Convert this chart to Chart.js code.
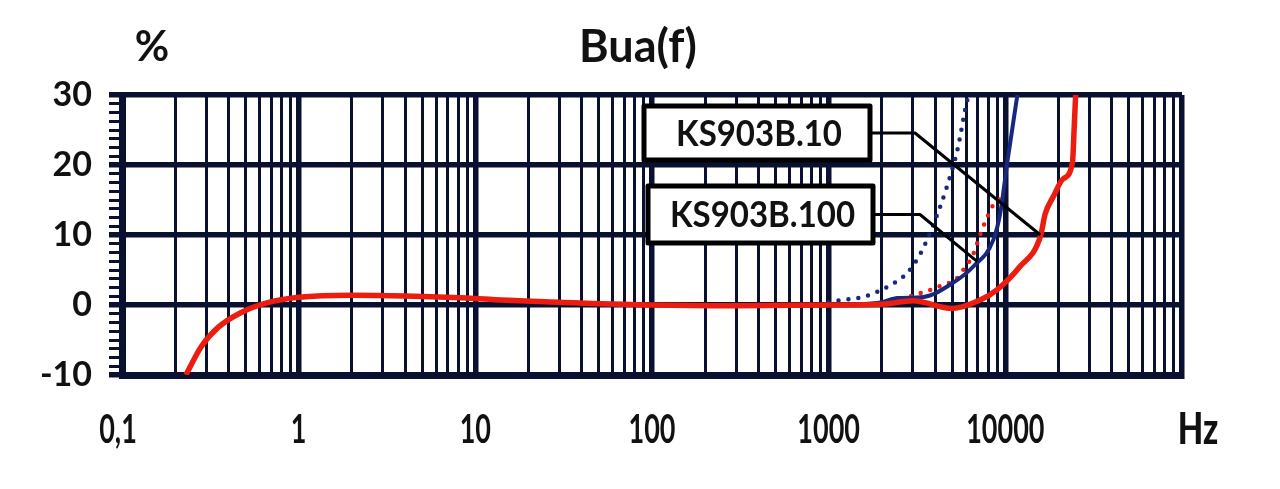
<!DOCTYPE html>
<html>
<head>
<meta charset="utf-8">
<script src="https://cdn.jsdelivr.net/npm/chart.js@4"></script>
<style>
  html, body { margin: 0; padding: 0; background: #ffffff; }
  #c { display: block; }
</style>
</head>
<body>
<canvas id="c" width="1280" height="489"></canvas>
<script>
// ---------------- data ----------------
const chartTitle = "Bua(f)";
const yUnit = "%";
const xUnit = "Hz";

const xTickValues = [0.1, 1, 10, 100, 1000, 10000];
const xTickLabels = ["0,1", "1", "10", "100", "1000", "10000"];
const yTickValues = [-10, 0, 10, 20, 30];
const yTickLabels = ["-10", "0", "10", "20", "30"];

// red solid
const redSolidFreq = [0.23, 0.28, 0.35, 0.47, 0.66, 1, 2, 4, 9, 14, 30, 100, 300, 1000, 2000, 3000, 5000, 7200, 9000, 12000, 15800, 16800, 18700, 21200, 24000, 24500, 25000];
const redSolidVal  = [-10, -6, -3.2, -1.1, 0.3, 1.1, 1.4, 1.3, 1.0, 0.7, 0.4, 0, -0.1, 0, 0.1, 0.6, -0.5, 0.7, 2.2, 5.4, 9.8, 13, 15.5, 18, 20.4, 25, 30];

// blue solid
const blueSolidFreq = [500, 1000, 2000, 2445, 3433, 5078, 6590, 8550, 9370, 10260, 11700];
const blueSolidVal  = [0, 0, 0.4, 1.0, 1.15, 3.2, 5.5, 9.3, 13.2, 20.4, 30];

// blue dotted
const blueDotFreq = [1000, 1164, 1570, 2148, 2787, 3302, 4016, 4697, 5350, 6095, 6250];
const blueDotVal  = [0.4, 0.7, 1.15, 2.6, 4.6, 7.3, 12.2, 17.1, 22.1, 29.3, 30];

// red dotted
const redDotFreq = [2000, 2600, 3302, 3910, 4455, 5212, 5780, 6590, 7035, 7500, 8010, 8550, 9500];
const redDotVal  = [0.4, 0.9, 1.7, 2.3, 2.9, 3.6, 5.0, 7.3, 9.3, 11.2, 12.9, 14.3, 15.3];

// callouts: label and the data point each leader line points to
const calloutLabels = ["KS903B.10", "KS903B.100"];
const calloutTargetFreq = [15800, 6940];
const calloutTargetVal  = [10, 6.2];

// ---------------- helpers ----------------
const NAVY = "#0a1030";
const RED = "#ec1d0f";
const BLUE = "#17287f";

function pts(xs, ys) { return xs.map((x, i) => ({ x: x, y: ys[i] })); }

// grid lines at 1..9 x each decade
const xGridValues = [];
for (let d = -1; d <= 4; d++) {
  for (let m = 1; m <= 9; m++) xGridValues.push(+(m * Math.pow(10, d)).toPrecision(6));
}
xGridValues.push(100000);
function isDecade(v) { const l = Math.log10(v); return Math.abs(l - Math.round(l)) < 1e-9; }
function isMajorY(v) { return Math.abs(v % 10) < 1e-9; }

// ---------------- plugins ----------------
const textPlugin = {
  id: "texts",
  afterDraw(chart) {
    const ctx = chart.ctx;
    const xs = chart.scales.x;
    ctx.save();
    ctx.fillStyle = "#111111";
    ctx.textAlign = "center";
    ctx.textBaseline = "middle";

    // x tick labels (vertically stretched like reference)
    ctx.font = "bold 27px Lato";
    xTickValues.forEach((v, i) => {
      const px = xs.getPixelForValue(v);
      ctx.save();
      ctx.translate(px - (i === 0 ? 4 : 0), 430);
      ctx.scale(1, 1.45);
      ctx.fillText(xTickLabels[i], 0, 0);
      ctx.restore();
    });
    // Hz
    ctx.save();
    ctx.font = "900 33px Lato";
    ctx.translate(1198, 430);
    ctx.scale(1, 1.3);
    ctx.fillText(xUnit, 0, 0);
    ctx.restore();

    // title and unit
    ctx.font = "bold 45px Lato";
    ctx.fillText(chartTitle, 638, 47);
    ctx.font = "bold 42px Lato";
    ctx.fillText(yUnit, 152, 47);
    ctx.restore();
  }
};

const calloutPlugin = {
  id: "callouts",
  afterDatasetsDraw(chart) {
    const ctx = chart.ctx;
    const xs = chart.scales.x;
    const ys = chart.scales.y;
    const boxes = [
      { l: 644, t: 106, r: 870, b: 160, elbowX: 915 },
      { l: 648, t: 186, r: 873, b: 243, elbowX: 920 }
    ];
    ctx.save();
    boxes.forEach((bx, i) => {
      const cy = (bx.t + bx.b) / 2;
      const tx = xs.getPixelForValue(calloutTargetFreq[i]);
      const ty = ys.getPixelForValue(calloutTargetVal[i]);
      // leader line
      ctx.strokeStyle = "#000000";
      ctx.lineWidth = 3;
      ctx.lineJoin = "round";
      ctx.beginPath();
      ctx.moveTo(bx.r, cy);
      ctx.lineTo(bx.elbowX, cy);
      ctx.lineTo(tx, ty);
      ctx.stroke();
      // box
      ctx.fillStyle = "#ffffff";
      ctx.fillRect(bx.l, bx.t, bx.r - bx.l, bx.b - bx.t);
      ctx.lineWidth = 5;
      ctx.strokeStyle = "#000000";
      ctx.strokeRect(bx.l, bx.t, bx.r - bx.l, bx.b - bx.t);
      // text
      ctx.fillStyle = "#111111";
      ctx.font = "bold 33px Lato";
      ctx.textAlign = "center";
      ctx.textBaseline = "middle";
      ctx.save();
      ctx.translate((bx.l + bx.r) / 2 + 2, cy + 1);
      ctx.scale(1, 1.1);
      ctx.fillText(calloutLabels[i], 0, 0);
      ctx.restore();
    });
    ctx.restore();
  }
};

// ---------------- chart ----------------
const dotted = { borderDash: [0, 10], borderCapStyle: "round", borderWidth: 4.5 };

new Chart(document.getElementById("c"), {
  type: "line",
  data: {
    datasets: [
      Object.assign({ label: "blue dotted", data: pts(blueDotFreq, blueDotVal), borderColor: BLUE, order: 4 }, dotted),
      Object.assign({ label: "red dotted", data: pts(redDotFreq, redDotVal), borderColor: RED, order: 3 }, dotted),
      { label: "blue solid", data: pts(blueSolidFreq, blueSolidVal), borderColor: BLUE, borderWidth: 4, order: 2 },
      { label: "red solid", data: pts(redSolidFreq, redSolidVal), borderColor: RED, borderWidth: 5.5, order: 1 }
    ]
  },
  options: {
    responsive: false,
    animation: false,
    devicePixelRatio: 1,
    layout: { padding: { top: 95, right: 98, left: 0, bottom: 0 } },
    elements: {
      point: { radius: 0 },
      line: { cubicInterpolationMode: "monotone", fill: false, borderJoinStyle: "round" }
    },
    plugins: { legend: { display: false }, tooltip: { enabled: false }, title: { display: false } },
    scales: {
      x: {
        type: "logarithmic",
        min: 0.1,
        max: 100000,
        afterBuildTicks(s) { s.ticks = xGridValues.map(v => ({ value: v })); },
        afterFit(s) { s.height = 114; },
        ticks: { display: false },
        grid: {
          drawTicks: false,
          color: NAVY,
          lineWidth: c => (c.tick && isDecade(c.tick.value)) ? 5.5 : 3
        },
        border: { display: true, color: NAVY, width: 7 }
      },
      y: {
        type: "linear",
        min: -10,
        max: 30,
        afterFit(s) { s.width = 122; },
        ticks: {
          stepSize: 1.25,
          autoSkip: false,
          padding: 17,
          color: "#111111",
          font: { family: "Lato", weight: "bold", size: 34 },
          callback: v => {
            const i = yTickValues.findIndex(t => Math.abs(t - v) < 1e-9);
            return i >= 0 ? yTickLabels[i] : "";
          }
        },
        grid: {
          color: c => (c.tick && isMajorY(c.tick.value)) ? NAVY : "rgba(0,0,0,0)",
          lineWidth: c => (c.tick && isMajorY(c.tick.value)) ? 5.5 : 3,
          tickColor: NAVY,
          tickWidth: c => (c.tick && isMajorY(c.tick.value)) ? 5.5 : 3,
          tickLength: 13
        },
        border: { display: true, color: NAVY, width: 7 }
      }
    }
  },
  plugins: [textPlugin, calloutPlugin]
});
</script>
</body>
</html>
